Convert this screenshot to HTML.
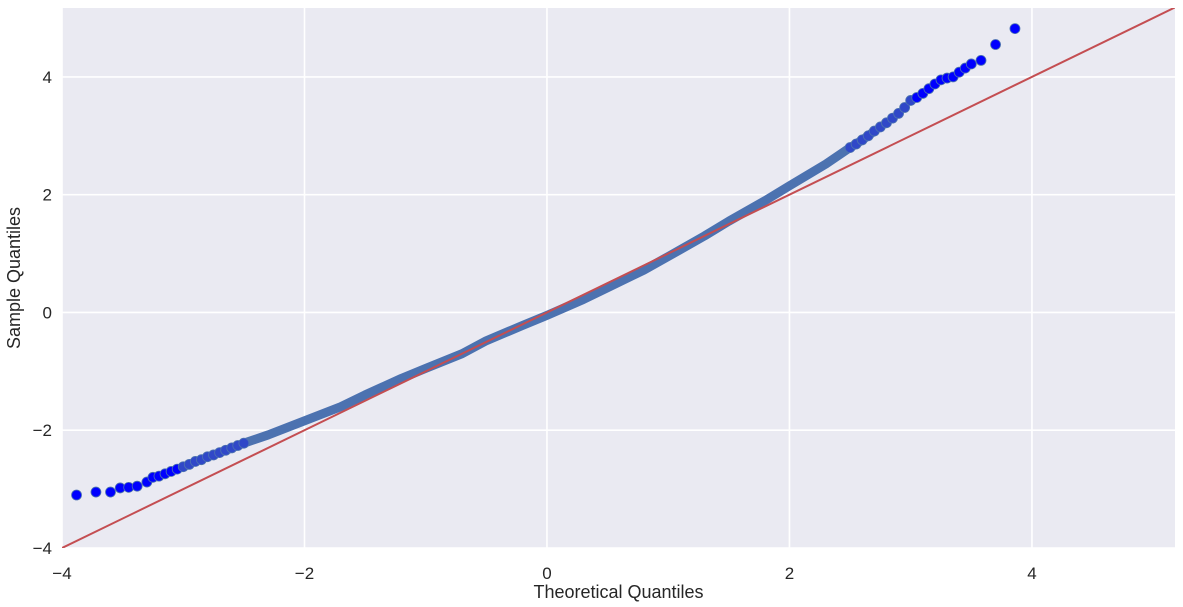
<!DOCTYPE html>
<html><head><meta charset="utf-8"><style>
body{margin:0;background:#fff;}
svg{display:block;font-family:"Liberation Sans",sans-serif;}
</style></head><body>
<svg id="chart" width="1183" height="607"></svg>
<script>
const xTicks=[-4,-2,0,2,4];
const yTicks=[-4,-2,0,2,4];
const theo=[-3.88,-3.72,-3.6,-3.52,-3.45,-3.38,-3.3,-3.25,-3.2,-3.15,-3.1,-3.05,-3.0,-2.95,-2.9,-2.85,-2.8,-2.75,-2.7,-2.65,-2.6,-2.55,-2.5,-2.3,-2.0,-1.7,-1.5,-1.2,-1.0,-0.7,-0.5,-0.2,0,0.3,0.5,0.8,1.0,1.3,1.5,1.8,2.0,2.3,2.5,2.55,2.6,2.65,2.7,2.75,2.8,2.85,2.9,2.95,3.0,3.05,3.1,3.15,3.2,3.25,3.3,3.35,3.4,3.45,3.5,3.58,3.7,3.86];
const sample=[-3.1,-3.05,-3.05,-2.98,-2.97,-2.95,-2.88,-2.8,-2.78,-2.74,-2.7,-2.66,-2.62,-2.58,-2.53,-2.5,-2.45,-2.42,-2.38,-2.34,-2.3,-2.26,-2.22,-2.08,-1.84,-1.6,-1.4,-1.12,-0.95,-0.7,-0.48,-0.22,-0.05,0.22,0.42,0.72,0.95,1.3,1.55,1.9,2.15,2.52,2.8,2.86,2.93,3.0,3.08,3.15,3.22,3.3,3.38,3.48,3.6,3.65,3.72,3.8,3.88,3.95,3.98,4.0,4.08,4.15,4.22,4.28,4.55,4.82];
const lineX=[-4,5.2];
const NS="http://www.w3.org/2000/svg";
const svg=document.getElementById('chart');
const L=62,R=1175,T=8,B=548,xmin=-4,xmax=5.18,ymin=-4,ymax=5.17;
const sx=v=>L+(v-xmin)/(xmax-xmin)*(R-L);
const sy=v=>B-(v-ymin)/(ymax-ymin)*(B-T);
function mk(t,a){const e=document.createElementNS(NS,t);for(const k in a)e.setAttribute(k,a[k]);svg.appendChild(e);return e;}
const bg=mk('rect',{x:L,y:T,width:R-L,height:B-T,fill:'#eaeaf2'});


xTicks.forEach(v=>{
 const g=mk('line',{x1:sx(v),x2:sx(v),y1:T,y2:B,stroke:'#fff','stroke-width':1.6});
 
 
 const t=mk('text',{x:sx(v),y:579,'text-anchor':'middle','font-size':17,fill:'#262626'});
 t.textContent=(v<0?'\u2212'+(-v):v);
 
 
});
yTicks.forEach(v=>{
 const g=mk('line',{x1:L,x2:R,y1:sy(v),y2:sy(v),stroke:'#fff','stroke-width':1.6});
 
 
 const t=mk('text',{x:52,y:sy(v)+6,'text-anchor':'end','font-size':17,fill:'#262626'});
 t.textContent=(v<0?'\u2212'+(-v):v);
 
 
});
const cp=mk('clipPath',{id:'cp'});
const cr=document.createElementNS(NS,'rect');cr.setAttribute('x',L);cr.setAttribute('y',T);cr.setAttribute('width',R-L);cr.setAttribute('height',B-T);cp.appendChild(cr);
let d='',first=true;
theo.forEach((v,i)=>{if(Math.abs(v)>2.72)return;d+=(first?'M':'L')+sx(v)+','+sy(sample[i]);first=false;});
const band=mk('path',{d:d,fill:'none',stroke:'#4c72b0','stroke-width':9,'stroke-linejoin':'round','stroke-linecap':'round'});


theo.forEach((v,i)=>{
 if(Math.abs(v)<2.5)return;
 const c=mk('circle',{cx:sx(v),cy:sy(sample[i]),r:5,fill:Math.abs(v)>3.0?'#0000ff':'#3048c8',stroke:'#4c72b0','stroke-width':0.8});
 
 
});
const ln=mk('line',{x1:sx(lineX[0]),y1:sy(lineX[0]),x2:sx(lineX[1]),y2:sy(lineX[1]),stroke:'#c44e52','stroke-width':2,'clip-path':'url(#cp)'});


const xt=mk('text',{x:(L+R)/2,y:598,'text-anchor':'middle','font-size':18,fill:'#262626'});
xt.textContent='Theoretical Quantiles';


const yt=mk('text',{x:0,y:0,'text-anchor':'middle','font-size':18,fill:'#262626',transform:'translate(20,'+((T+B)/2)+') rotate(-90)'});
yt.textContent='Sample Quantiles';


</script>
</body></html>
